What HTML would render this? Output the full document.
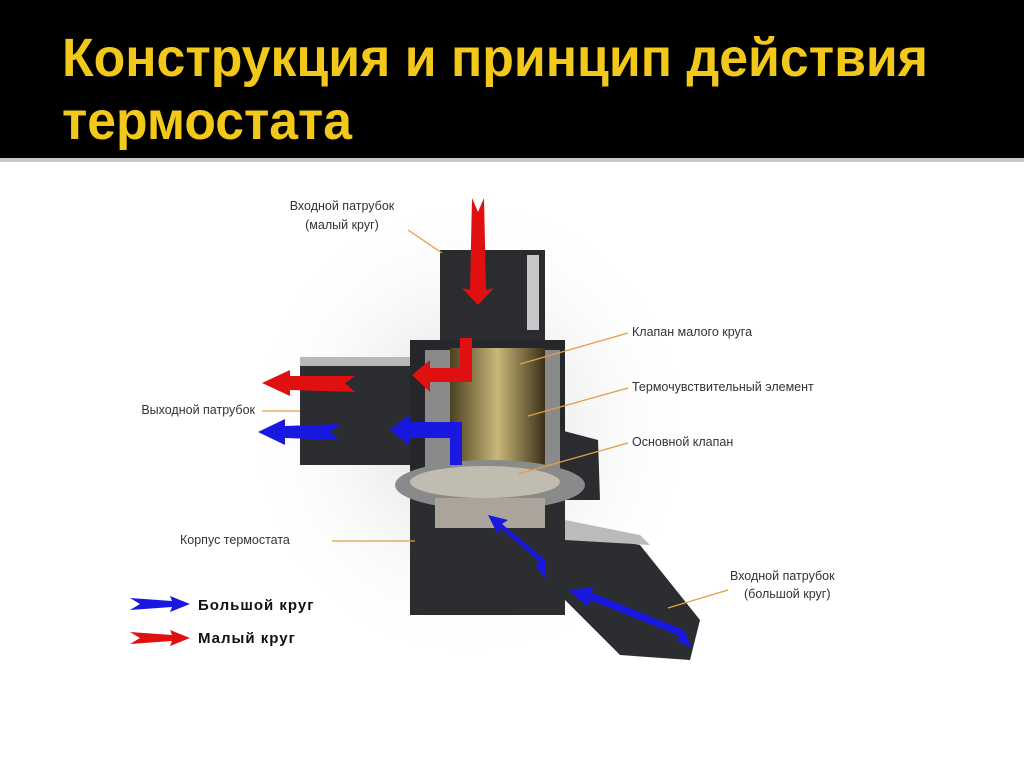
<!DOCTYPE html>
<html><head><meta charset="utf-8"><style>
html,body{margin:0;padding:0;background:#fff;}
svg{display:block}
</style></head><body>
<svg width="1024" height="767" viewBox="0 0 1024 767" xmlns="http://www.w3.org/2000/svg">
<defs>
<radialGradient id="sh" cx="50%" cy="50%" r="50%"><stop offset="0" stop-color="#bbb" stop-opacity="0.6"/><stop offset="1" stop-color="#fff" stop-opacity="0"/></radialGradient>
<linearGradient id="gold" x1="0" x2="1"><stop offset="0" stop-color="#4a4020"/><stop offset="0.5" stop-color="#c9b87a"/><stop offset="1" stop-color="#3a3018"/></linearGradient>
</defs>
<rect x="0" y="0" width="1024" height="158" fill="#000"/>
<rect x="0" y="158" width="1024" height="4" fill="#c8c8c8"/>
<g font-family="'Liberation Sans',sans-serif" font-weight="bold" fill="#f2c81a" font-size="54">
<text x="62" y="76" textLength="866" lengthAdjust="spacingAndGlyphs">Конструкция и принцип действия</text>
<text x="62" y="139" textLength="290" lengthAdjust="spacingAndGlyphs">термостата</text>
</g>
<ellipse cx="470" cy="430" rx="230" ry="240" fill="url(#sh)"/>
<g>
<rect x="440" y="250" width="105" height="95" fill="#2a2c30"/>
<rect x="527" y="255" width="12" height="75" fill="#c8c8c8"/>
<path d="M300 357 L430 357 L430 465 L300 465 Z" fill="#2b2d31"/>
<path d="M300 357 L430 357 L430 366 L300 366 Z" fill="#b8b8b8"/>
<path d="M410 340 L565 340 L565 480 L410 480 Z" fill="#25272b"/>
<path d="M560 430 L598 440 L600 500 L560 500 Z" fill="#2a2c30"/>
<rect x="425" y="350" width="135" height="125" fill="#8a8a8a"/>
<rect x="450" y="348" width="95" height="122" fill="url(#gold)"/>
<path d="M410 490 L565 490 L565 530 L640 545 L700 620 L690 660 L620 655 L565 600 L565 615 L410 615 Z" fill="#2b2d31"/>
<path d="M565 520 L640 535 L650 545 L565 540 Z" fill="#bbb"/>
<ellipse cx="490" cy="485" rx="95" ry="25" fill="#8a8a8a"/>
<ellipse cx="485" cy="482" rx="75" ry="16" fill="#c0bcb0"/>
<rect x="435" y="498" width="110" height="30" fill="#aaa49a"/>
</g>
<g fill="#e01010">
<path d="M472 198 L478 212 L484 198 L486 290 L494 288 L478 305 L462 288 L470 290 Z"/>
<path d="M460 338 L472 338 L472 382 L430 382 L430 392 L412 375 L430 360 L430 368 L460 368 Z"/>
<path d="M355 376 L345 383 L355 392 L290 390 L290 396 L262 383 L290 370 L290 376 Z"/>
<path d="M190 638 L170 630 L172 635 L130 632 L140 638 L130 644 L172 641 L170 646 Z"/>
</g>
<g fill="#1818e0">
<path d="M450 465 L462 465 L462 422 L410 422 L410 414 L390 430 L410 446 L410 438 L450 438 Z"/>
<path d="M340 424 L330 432 L340 440 L285 438 L285 445 L258 432 L285 419 L285 426 Z"/>
<path d="M545 578 L535 565 L540 562 L500 528 L498 535 L488 515 L508 520 L502 524 L545 560 Z"/>
<path d="M692 648 L676 640 L680 636 L590 600 L588 607 L568 590 L595 587 L590 592 L684 630 Z"/>
<path d="M190 604 L170 596 L172 601 L130 598 L140 604 L130 610 L172 607 L170 612 Z"/>
</g>
<g stroke="#e0a040" stroke-width="1.3" fill="none">
<path d="M408 230 L442 253"/>
<path d="M628 333 L520 364"/>
<path d="M628 388 L528 416"/>
<path d="M628 443 L518 474"/>
<path d="M262 411 L300 411"/>
<path d="M332 541 L415 541"/>
<path d="M728 590 L668 608"/>
</g>
<g font-family="'Liberation Sans',sans-serif" font-size="12.5" fill="#333">
<text x="342" y="210" text-anchor="middle">Входной патрубок</text>
<text x="342" y="229" text-anchor="middle">(малый круг)</text>
<text x="632" y="336">Клапан малого круга</text>
<text x="632" y="391">Термочувствительный элемент</text>
<text x="632" y="446">Основной клапан</text>
<text x="255" y="414" text-anchor="end">Выходной патрубок</text>
<text x="180" y="544">Корпус термостата</text>
<text x="730" y="580">Входной патрубок</text>
<text x="744" y="598">(большой круг)</text>
</g>
<g font-family="'Liberation Sans',sans-serif" font-size="15" font-weight="bold" fill="#111" letter-spacing="1">
<text x="198" y="610">Большой круг</text>
<text x="198" y="643">Малый круг</text>
</g>
</svg>
</body></html>
